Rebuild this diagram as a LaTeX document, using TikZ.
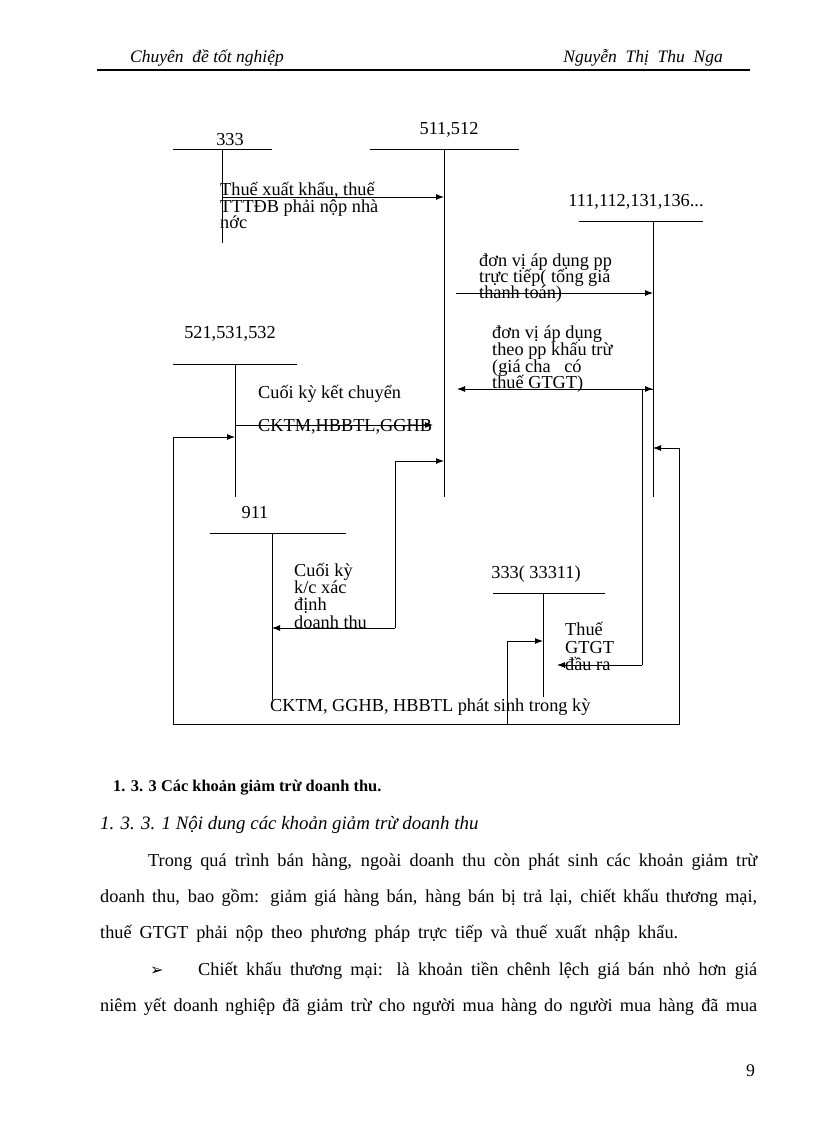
\documentclass[tikz,border=0pt]{standalone}
\usepackage{fontspec}
\setmainfont{Liberation Serif}
\newfontfamily\symfont{DejaVu Sans}
\usetikzlibrary{arrows.meta}
\newcommand\dgsize{\fontsize{18.3}{19}\selectfont}
\newcommand\bdsize{\fontsize{18.3}{20}\selectfont}
\begin{document}
\begin{tikzpicture}[x=1pt,y=-1pt,
  lbl/.style={anchor=base west,inner sep=0pt,font=\dgsize},
  acclbl/.style={anchor=base,inner sep=0pt,font=\dgsize},
  body/.style={anchor=base west,inner sep=0pt,font=\bdsize},
  acc/.style={line width=0.9pt},
  arr/.style={line width=0.9pt,-{Latex[length=8pt,width=6pt]}},
  ln/.style={line width=0.9pt}]
\useasboundingbox (0,0) rectangle (816,1123);

% header
\node[anchor=base west,inner sep=0pt,font=\fontsize{17.5}{19}\selectfont\itshape] (h1) at (130,63) {Chuyên \ đề tốt nghiệp};
\node[anchor=base east,inner sep=0pt,font=\fontsize{17.5}{19}\selectfont\itshape] (h2) at (723,63) {Nguyễn \ Thị \ Thu \ Nga};
\draw[line width=2pt] (97,70) -- (750,70);

% account coordinates
\coordinate (a333L) at (173,149); \coordinate (a333R) at (272,149);
\coordinate (a333T) at (222,149); \coordinate (a333B) at (222,243);
\coordinate (a511L) at (370,149); \coordinate (a511R) at (519,149);
\coordinate (a511T) at (444,149); \coordinate (a511B) at (444,497);
\coordinate (a111L) at (579,221); \coordinate (a111R) at (703,221);
\coordinate (a111T) at (653,221); \coordinate (a111B) at (653,497);
\coordinate (a521L) at (173,364); \coordinate (a521R) at (297,364);
\coordinate (a521T) at (235,364); \coordinate (a521B) at (235,497);
\coordinate (a911L) at (210,533); \coordinate (a911R) at (346,533);
\coordinate (a911T) at (272,533); \coordinate (a911B) at (272,700);
\coordinate (aVATL) at (493,593); \coordinate (aVATR) at (605,593);
\coordinate (aVATT) at (543,593); \coordinate (aVATB) at (543,697);

% account labels
\node[acclbl] (t333) at (230,146) {333};
\node[acclbl] (t511) at (449,135) {511,512};
\node[acclbl] (t111) at (636,207) {111,112,131,136...};
\node[acclbl] (t521) at (230,338) {521,531,532};
\node[acclbl] (t911) at (255,518) {911};
\node[acclbl] (tVAT) at (536,578) {333( 33311)};

% T accounts
\foreach \a in {a333,a511,a111,a521,a911,aVAT}{
  \draw[acc] (\a L) -- (\a R);
  \draw[acc] (\a T) -- (\a B);
}

% connectors
\coordinate (c1s) at (222,197); \coordinate (c1e) at (444,197);
\draw[arr] (c1s) -- (c1e);
\coordinate (c2s) at (456,293); \coordinate (c2e) at (653,293);
\draw[arr] (c2s) -- (c2e);
\coordinate (c3s) at (653,389); \coordinate (c3e) at (457,389);
\draw[arr] (c3s) -- (c3e);
\coordinate (c4a) at (642,665); \coordinate (c4b) at (642,389); \coordinate (c4e) at (557,665);
\draw[arr] (c4a) -- (c4b) -- (c3s);
\draw[arr] (c4a) -- (c4e);
\coordinate (c5s) at (235,425); \coordinate (c5e) at (433,425);
\draw[arr] (c5s) -- (c5e);
\coordinate (bl) at (173,724); \coordinate (br) at (679,724);
\coordinate (c6b) at (173,437); \coordinate (c6e) at (235,437);
\draw[arr] (bl) -- (c6b) -- (c6e);
\coordinate (c7a) at (395,628); \coordinate (c7b) at (395,461); \coordinate (c7e) at (444,461);
\coordinate (c7f) at (272,628);
\draw[arr] (c7a) -- (c7b) -- (c7e);
\draw[arr] (c7a) -- (c7f);
\coordinate (c8b) at (679,448); \coordinate (c8e) at (653,448);
\draw[arr] (bl) -- (br) -- (c8b) -- (c8e);
\coordinate (c9a) at (507,724); \coordinate (c9b) at (507,641); \coordinate (c9e) at (543,641);
\draw[arr] (c9a) -- (c9b) -- (c9e);

% diagram labels
\node[lbl] (l1a) at (220,196) {Thuế xuất khẩu, thuế};
\node[lbl] (l1b) at (220,213) {TTTĐB phải nộp nhà};
\node[lbl] (l1c) at (220,229) {nớc};
\node[lbl] (l2a) at (479,266) {đơn vị áp dụng pp};
\node[lbl] (l2b) at (479,282) {trực tiếp( tổng giá};
\node[lbl] (l2c) at (479,298) {thanh toán)};
\node[lbl] (l3a) at (492,338) {đơn vị áp dụng};
\node[lbl] (l3b) at (492,355) {theo pp khấu trừ};
\node[lbl] (l3c) at (492,372) {(giá cha \ \ có};
\node[lbl] (l3d) at (492,388) {thuế GTGT)};
\node[lbl] (l4a) at (258,398) {Cuối kỳ kết chuyển};
\node[lbl] (l4b) at (258,431) {CKTM,HBBTL,GGHB};
\node[lbl] (l5a) at (294,576) {Cuối kỳ};
\node[lbl] (l5b) at (294,593) {k/c xác};
\node[lbl] (l5c) at (294,610) {định};
\node[lbl] (l5d) at (294,628) {doanh thu};
\node[lbl] (l6a) at (565,635) {Thuế};
\node[lbl] (l6b) at (565,653) {GTGT};
\node[lbl] (l6c) at (565,670) {đầu ra};
\node[lbl] (l7) at (270,711) {CKTM, GGHB, HBBTL phát sinh trong kỳ};

% body text
\node[body,font=\fontsize{16.4}{20}\selectfont\bfseries] (s1) at (113,791) {1. 3. 3 Các khoản giảm trừ doanh thu.};
\node[body,font=\fontsize{18.9}{21}\selectfont\itshape] (s2) at (100,829) {1. 3. 3. 1 Nội dung các khoản giảm trừ doanh thu};
\node[body] (p1) at (148,866) {\makebox[609pt][s]{Trong quá trình bán hàng, ngoài doanh thu còn phát sinh các khoản giảm trừ}};
\node[body] (p2) at (100,902) {\makebox[657pt][s]{doanh thu, bao gồm: giảm giá hàng bán, hàng bán bị trả lại, chiết khấu thương mại,}};
\node[body] (p3) at (100,938) {\makebox[578pt][s]{thuế GTGT phải nộp theo phương pháp trực tiếp và thuế xuất nhập khẩu.}};
\node[body,font=\fontsize{16}{18}\symfont] (b1) at (150,975) {➢};
\node[body] (p4) at (198,975) {\makebox[559pt][s]{Chiết khấu thương mại: là khoản tiền chênh lệch giá bán nhỏ hơn giá}};
\node[body] (p5) at (100,1011) {\makebox[657pt][s]{niêm yết doanh nghiệp đã giảm trừ cho người mua hàng do người mua hàng đã mua}};
\node[body,font=\fontsize{17.8}{20}\selectfont] (pg) at (746,1076) {9};
\end{tikzpicture}
\end{document}
